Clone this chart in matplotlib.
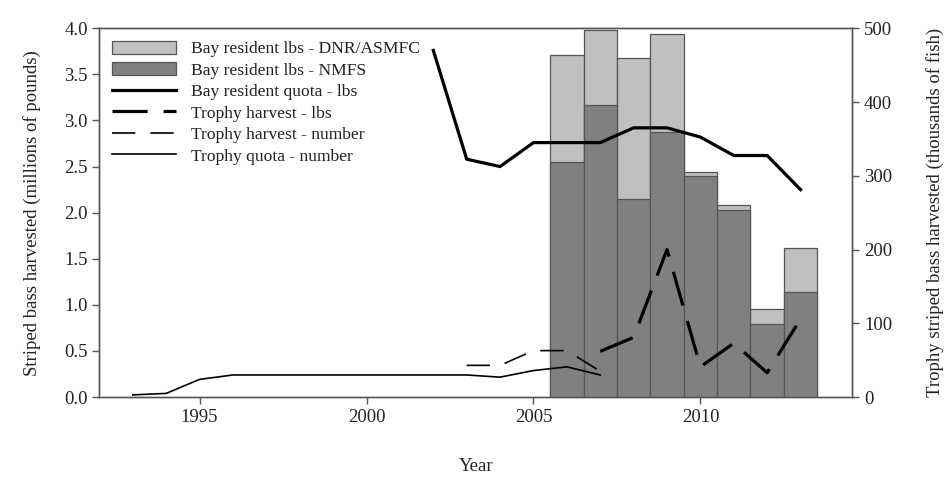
import numpy as np
import matplotlib
matplotlib.use("Agg")
import matplotlib.pyplot as plt

plt.rcParams['font.family'] = ['Liberation Serif', 'DejaVu Serif']

# bars (millions of pounds)
bar_years = [2006, 2007, 2008, 2009, 2010, 2011, 2012, 2013]
dnr_lbs = [3.71, 3.98, 3.68, 3.94, 2.44, 2.08, 0.95, 1.62]
nmfs_lbs = [2.55, 3.17, 2.15, 2.87, 2.40, 2.03, 0.79, 1.14]

# bay resident quota (millions of pounds)
quota_years = [2002, 2003, 2004, 2005, 2006, 2007, 2008, 2009, 2010, 2011, 2012, 2013]
quota_lbs = [3.76, 2.58, 2.50, 2.76, 2.76, 2.76, 2.92, 2.92, 2.82, 2.62, 2.62, 2.25]

# trophy series (right axis, thousands)
trophy_lbs_years = [2007, 2008, 2009, 2010, 2011, 2012, 2013]
trophy_lbs = [62, 81, 200, 41, 73, 33, 106]

trophy_num_years = [2003, 2004, 2005, 2006, 2007]
trophy_num = [43, 43, 63, 63, 35]

tquota_years = [1993, 1994, 1995, 1996, 1997, 1998, 1999, 2000, 2001, 2002,
                2003, 2004, 2005, 2006, 2007]
tquota_num = [3, 5, 24, 30, 30, 30, 30, 30, 30, 30, 30, 27, 36, 41, 30]

spine_col = '#555555'
text_col = '#222222'

fig = plt.figure(figsize=(9.47, 4.79), dpi=100)
ax = fig.add_axes([0.105, 0.171, 0.795, 0.770])
ax2 = ax.twinx()

b1 = ax.bar(bar_years, dnr_lbs, width=1.0, color='#c0c0c0', edgecolor='#555555',
            linewidth=0.9, label='Bay resident lbs - DNR/ASMFC', zorder=2)
b2 = ax.bar(bar_years, nmfs_lbs, width=1.0, color='#808080', edgecolor='#555555',
            linewidth=0.9, label='Bay resident lbs - NMFS', zorder=3)
l1, = ax.plot(quota_years, quota_lbs, color='black', lw=2.3,
              label='Bay resident quota - lbs', zorder=4)

l2, = ax2.plot(trophy_lbs_years, trophy_lbs, color='black', lw=2.3,
               dashes=(11, 5), label='Trophy harvest - lbs')
l3, = ax2.plot(trophy_num_years, trophy_num, color='black', lw=1.2,
               dashes=(14, 9), label='Trophy harvest - number')
l4, = ax2.plot(tquota_years, tquota_num, color='black', lw=1.2,
               label='Trophy quota - number')

ax.set_xlim(1992.0, 2014.55)
ax.set_ylim(0, 4.0)
ax2.set_ylim(0, 500)
ax.set_xticks([1995, 2000, 2005, 2010])
ax.set_yticks(np.arange(0, 4.01, 0.5))
ax.set_yticklabels([f'{v:.1f}' for v in np.arange(0, 4.01, 0.5)])
ax2.set_yticks(range(0, 501, 100))

for a in (ax, ax2):
    for s in a.spines.values():
        s.set_color(spine_col)
        s.set_linewidth(1.0)
    a.tick_params(direction='out', length=5, width=1, color=spine_col,
                  labelsize=13.5, labelcolor=text_col)

ax.set_xlabel('Year', fontsize=13.5, color=text_col, labelpad=23)
ax.set_ylabel('Striped bass harvested (millions of pounds)', fontsize=13.5,
              color=text_col, labelpad=17)
ax2.set_ylabel('Trophy striped bass harvested (thousands of fish)', fontsize=13.5,
               color=text_col, labelpad=24)

leg = ax2.legend(handles=[b1, b2, l1, l2, l3, l4], loc='upper left',
                 bbox_to_anchor=(0.0, 1.0), frameon=False, fontsize=12.6,
                 handlelength=3.7, handleheight=0.8, handletextpad=0.85,
                 labelspacing=0.27, borderaxespad=0.3)
for t in leg.get_texts():
    t.set_color(text_col)

fig.savefig('out.png', dpi=100)
